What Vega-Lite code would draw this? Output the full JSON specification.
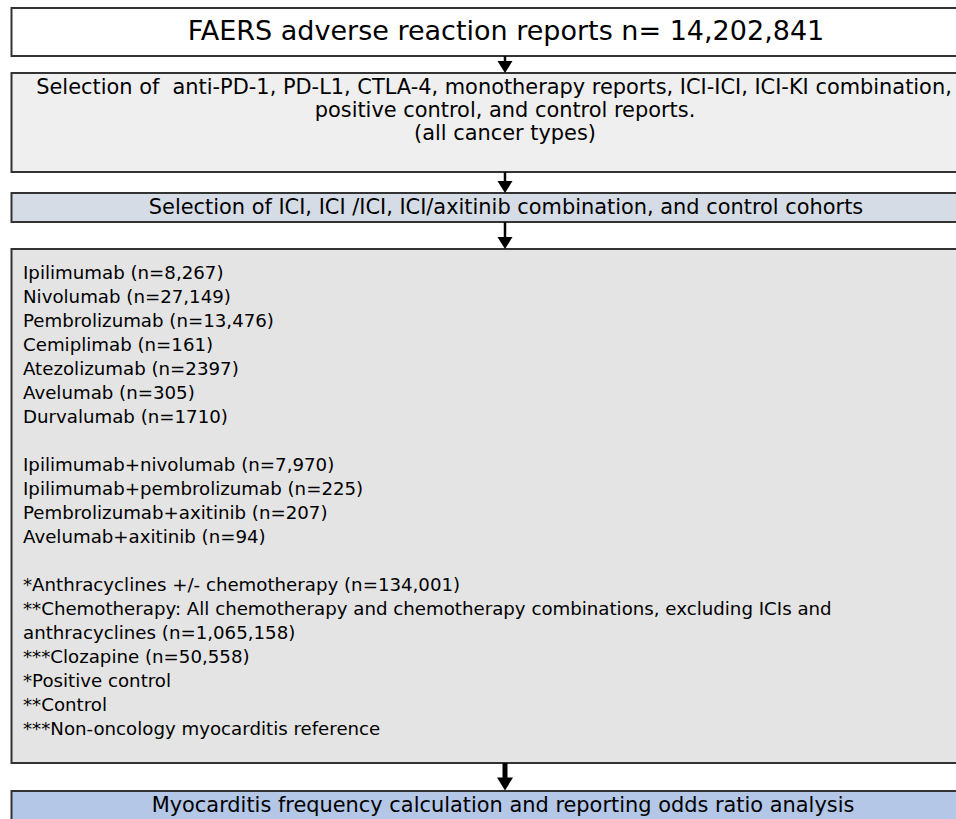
{
  "$schema": "https://vega.github.io/schema/vega-lite/v6.json",
  "width": 956,
  "height": 819,
  "padding": 0,
  "autosize": {"type": "none"},
  "background": "white",
  "config": {"view": {"stroke": null}},
  "datasets": {
    "boxes": [
      {"stage": "1 FAERS reports", "left": 11.5, "right": 962, "top": 8, "bottom": 56},
      {"stage": "2 Selection", "left": 11.5, "right": 962, "top": 73, "bottom": 172},
      {"stage": "3 Cohorts", "left": 11.5, "right": 962, "top": 193, "bottom": 222},
      {"stage": "4 Drugs", "left": 11.5, "right": 962, "top": 249, "bottom": 763},
      {"stage": "5 Analysis", "left": 11.5, "right": 962, "top": 791, "bottom": 830}
    ],
    "centered": [
      {"role": "title", "x": 506, "y": 32, "label": "FAERS adverse reaction reports n= 14,202,841"},
      {"role": "body", "x": 494, "y": 88, "label": "Selection of\u00a0 anti-PD-1, PD-L1, CTLA-4, monotherapy reports, ICI-ICI, ICI-KI combination,"},
      {"role": "body", "x": 505, "y": 111, "label": "positive control, and control reports."},
      {"role": "body", "x": 505, "y": 134, "label": "(all cancer types)"},
      {"role": "body", "x": 506, "y": 208, "label": "Selection of ICI, ICI /ICI, ICI/axitinib combination, and control cohorts"},
      {"role": "body", "x": 503, "y": 806, "label": "Myocarditis frequency calculation and reporting odds ratio analysis"}
    ],
    "listed": [
      {"x": 23, "y": 274, "label": "Ipilimumab (n=8,267)"},
      {"x": 23, "y": 298, "label": "Nivolumab (n=27,149)"},
      {"x": 23, "y": 322, "label": "Pembrolizumab (n=13,476)"},
      {"x": 23, "y": 346, "label": "Cemiplimab (n=161)"},
      {"x": 23, "y": 370, "label": "Atezolizumab (n=2397)"},
      {"x": 23, "y": 394, "label": "Avelumab (n=305)"},
      {"x": 23, "y": 418, "label": "Durvalumab (n=1710)"},
      {"x": 23, "y": 466, "label": "Ipilimumab+nivolumab (n=7,970)"},
      {"x": 23, "y": 490, "label": "Ipilimumab+pembrolizumab (n=225)"},
      {"x": 23, "y": 514, "label": "Pembrolizumab+axitinib (n=207)"},
      {"x": 23, "y": 538, "label": "Avelumab+axitinib (n=94)"},
      {"x": 23, "y": 586, "label": "*Anthracyclines +/- chemotherapy (n=134,001)"},
      {"x": 23, "y": 610, "label": "**Chemotherapy: All chemotherapy and chemotherapy combinations, excluding ICIs and"},
      {"x": 23, "y": 634, "label": "anthracyclines (n=1,065,158)"},
      {"x": 23, "y": 658, "label": "***Clozapine (n=50,558)"},
      {"x": 23, "y": 682, "label": "*Positive control"},
      {"x": 23, "y": 706, "label": "**Control"},
      {"x": 23, "y": 730, "label": "***Non-oncology myocarditis reference"}
    ],
    "arrows": [
      {"kind": "step", "x": 505, "from": 56, "to": 64, "head": 67},
      {"kind": "step", "x": 505, "from": 172, "to": 183, "head": 187},
      {"kind": "step", "x": 505, "from": 222, "to": 239, "head": 243},
      {"kind": "final", "x": 505, "from": 763, "to": 779, "head": 784}
    ]
  },
  "layer": [
    {
      "data": {"name": "boxes"},
      "mark": {"type": "rect", "stroke": "#333333", "strokeWidth": 2},
      "encoding": {
        "x": {"field": "left", "type": "quantitative", "scale": {"domain": [0, 956], "nice": false, "zero": false}, "axis": null},
        "x2": {"field": "right"},
        "y": {"field": "top", "type": "quantitative", "scale": {"domain": [0, 819], "nice": false, "zero": false, "reverse": true}, "axis": null},
        "y2": {"field": "bottom"},
        "fill": {"field": "stage", "type": "nominal", "scale": {"domain": ["1 FAERS reports", "2 Selection", "3 Cohorts", "4 Drugs", "5 Analysis"], "range": ["#ffffff", "#efefef", "#d6dce5", "#e4e4e4", "#b4c7e7"]}, "legend": null}
      }
    },
    {
      "data": {"name": "centered"},
      "mark": {"type": "text", "align": "center", "baseline": "middle", "font": "DejaVu Sans", "color": "#000000"},
      "encoding": {
        "x": {"field": "x", "type": "quantitative", "scale": {"domain": [0, 956], "nice": false, "zero": false}, "axis": null},
        "y": {"field": "y", "type": "quantitative", "scale": {"domain": [0, 819], "nice": false, "zero": false, "reverse": true}, "axis": null},
        "text": {"field": "label"},
        "size": {"field": "role", "type": "ordinal", "scale": {"domain": ["title", "body"], "range": [27, 20.9]}, "legend": null}
      }
    },
    {
      "data": {"name": "listed"},
      "mark": {"type": "text", "align": "left", "baseline": "middle", "font": "DejaVu Sans", "fontSize": 18.2, "color": "#000000"},
      "encoding": {
        "x": {"field": "x", "type": "quantitative", "scale": {"domain": [0, 956], "nice": false, "zero": false}, "axis": null},
        "y": {"field": "y", "type": "quantitative", "scale": {"domain": [0, 819], "nice": false, "zero": false, "reverse": true}, "axis": null},
        "text": {"field": "label"}
      }
    },
    {
      "data": {"name": "arrows"},
      "mark": {"type": "rule", "color": "#000000"},
      "encoding": {
        "x": {"field": "x", "type": "quantitative", "scale": {"domain": [0, 956], "nice": false, "zero": false}, "axis": null},
        "y": {"field": "from", "type": "quantitative", "scale": {"domain": [0, 819], "nice": false, "zero": false, "reverse": true}, "axis": null},
        "y2": {"field": "to"},
        "strokeWidth": {"field": "kind", "type": "ordinal", "scale": {"domain": ["step", "final"], "range": [2.5, 5]}, "legend": null}
      }
    },
    {
      "data": {"name": "arrows"},
      "mark": {"type": "point", "filled": true, "color": "#000000", "opacity": 1, "shape": "M-1,-0.8L1,-0.8L0,0.8Z"},
      "encoding": {
        "x": {"field": "x", "type": "quantitative", "scale": {"domain": [0, 956], "nice": false, "zero": false}, "axis": null},
        "y": {"field": "head", "type": "quantitative", "scale": {"domain": [0, 819], "nice": false, "zero": false, "reverse": true}, "axis": null},
        "size": {"field": "kind", "type": "ordinal", "scale": {"domain": ["step", "final"], "range": [225, 256]}, "legend": null}
      }
    }
  ],
  "resolve": {"scale": {"size": "independent", "fill": "independent"}}
}
